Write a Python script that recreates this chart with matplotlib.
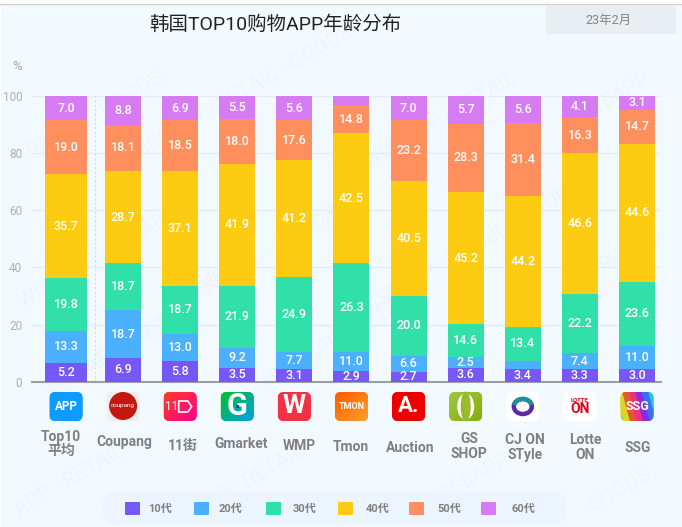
import numpy as np
import matplotlib
matplotlib.use("Agg")
import matplotlib.pyplot as plt
from matplotlib.patches import FancyBboxPatch, Rectangle, Circle, Polygon, Ellipse, Arc

plt.rcParams["font.family"] = ["Roboto", "Noto Sans CJK SC", "DejaVu Sans"]

# Data: segment heights, printed labels kept separately
apps = ["Top10\n平均", "Coupang", "11街", "Gmarket", "WMP", "Tmon", "Auction",
        "GS\nSHOP", "CJ ON\nSTyle", "Lotte\nON", "SSG"]
ages = ["10代", "20代", "30代", "40代", "50代", "60代"]
age10 = [6.5, 8.3, 7.1, 4.9, 4.4, 3.7, 3.5, 4.9, 4.4, 4.4, 4.3]
age20 = [11.4, 16.7, 9.6, 6.8, 6.1, 6.8, 5.6, 3.7, 2.7, 5.5, 8.2]
age30 = [18.4, 16.5, 16.8, 21.9, 26.3, 31.0, 20.9, 11.5, 12.2, 20.9, 22.5]
age40 = [36.3, 32.2, 40.2, 42.7, 40.8, 45.5, 40.2, 46.3, 45.7, 49.1, 48.2]
age50 = [18.9, 16.3, 17.8, 15.8, 13.9, 9.7, 21.3, 23.9, 25.4, 12.7, 12.0]
age60 = [8.5, 10.0, 8.5, 7.9, 8.5, 3.3, 8.5, 9.7, 9.6, 7.4, 4.8]
label10 = ["5.2", "6.9", "5.8", "3.5", "3.1", "2.9", "2.7", "3.6", "3.4", "3.3", "3.0"]
label20 = ["13.3", "18.7", "13.0", "9.2", "7.7", "11.0", "6.6", "2.5", "", "7.4", "11.0"]
label30 = ["19.8", "18.7", "18.7", "21.9", "24.9", "26.3", "20.0", "14.6", "13.4", "22.2", "23.6"]
label40 = ["35.7", "28.7", "37.1", "41.9", "41.2", "42.5", "40.5", "45.2", "44.2", "46.6", "44.6"]
label50 = ["19.0", "18.1", "18.5", "18.0", "17.6", "14.8", "23.2", "28.3", "31.4", "16.3", "14.7"]
label60 = ["7.0", "8.8", "6.9", "5.5", "5.6", "", "7.0", "5.7", "5.6", "4.1", "3.1"]

colors = ["#7558f5", "#4bb0fd", "#30e0a8", "#fdcb12", "#ff8f5c", "#d77bf2"]
W, H = 682, 527
BG = "#f3faff"

fig = plt.figure(figsize=(W / 100, H / 100), dpi=100, facecolor="white")

# background layer in pixel coordinates
bg = fig.add_axes([0, 0, 1, 1], zorder=0)
bg.axis("off")


def gradient(x, y, w, h, c1, c2, r=6):
    # rounded icon with a diagonal gradient
    patch = FancyBboxPatch((x + r, y + r), w - 2 * r, h - 2 * r,
                           boxstyle="round,pad=%d,rounding_size=%d" % (r, r),
                           fc=c1, ec="none", zorder=3)
    bg.add_patch(patch)
    t = np.linspace(0, 1, 40)
    g = (t[None, :] + t[:, None]) / 2
    rgb1 = np.array(matplotlib.colors.to_rgb(c1))
    rgb2 = np.array(matplotlib.colors.to_rgb(c2))
    im = rgb1[None, None, :] * (1 - g[..., None]) + rgb2[None, None, :] * g[..., None]
    img = bg.imshow(im, extent=(x, x + w, y + h, y), aspect="auto", zorder=3.1)
    img.set_clip_path(patch)


bg.add_patch(Rectangle((1, 4), 681, 523, fc=BG, ec="none", zorder=0))
bg.plot([0, 682], [3.5, 3.5], color="#cfd2d4", lw=1, zorder=1)

# faint watermark
marks = [(95, 115, "RETAIL · GOODS"), (240, 95, "WISEAPP · RETAIL · GOODS"),
         (440, 120, "WISEAPP · RETAIL"), (610, 100, "WISEAPP"),
         (95, 260, "WISEAPP · RETAIL"), (270, 250, "RETAIL · GOODS"),
         (470, 250, "WISEAPP · RETAIL · GOODS"), (630, 250, "RETAIL"),
         (120, 350, "WISEAPP · RETAIL"), (340, 340, "WISEAPP · RETAIL"),
         (70, 480, "APP · RETAIL"), (250, 480, "APP · RETAIL"),
         (470, 480, "WISEAPP"), (620, 490, "GOODS")]
for mx, my, mt in marks:
    bg.text(mx, my, mt, color="#ebf5fe", fontsize=15, rotation=30,
            ha="center", va="center", zorder=1)

bg.text(275.5, 25, "韩国TOP10购物APP年龄分布", fontsize=14, color="#222222",
        ha="center", va="center", zorder=2)
bg.add_patch(Rectangle((546, 5), 130, 29, fc="#e9eef2", ec="none", zorder=2))
bg.text(609, 20.5, "23年2月", fontsize=9, color="#858585", ha="center", va="center", zorder=3)
bg.text(17.5, 66, "%", fontsize=9.5, color="#9ea3a6", ha="center", va="center", zorder=2)

# chart
px_left, px_right, px_top, px_bottom = 32, 661, 96, 381.7
ax = fig.add_axes([px_left / W, 1 - px_bottom / H, (px_right - px_left) / W,
                   (px_bottom - px_top) / H], zorder=1)
ax.patch.set_alpha(0)
step = 57.1
ax.set_xlim((px_left - 66) / step, (px_right - 66) / step)
ax.set_ylim(0, 100)
x = np.arange(len(apps))
widths = [42 / step] + [36 / step] * (len(apps) - 1)

bottom = np.zeros(len(apps))
series = [age10, age20, age30, age40, age50, age60]
texts = [label10, label20, label30, label40, label50, label60]
for vals, labs, col in zip(series, texts, colors):
    ax.bar(x, vals, bottom=bottom, width=widths, color=col, zorder=3)
    for xi, b, v, s in zip(x, bottom, vals, labs):
        ax.text(xi, b + v / 2, s, color="white", fontsize=9, fontweight="medium",
                ha="center", va="center", zorder=4)
    bottom = bottom + np.array(vals)

ax.set_yticks([0, 20, 40, 60, 80, 100])
ax.set_xticks([])
ax.tick_params(axis="y", length=0, labelsize=8.5, labelcolor="#aab0b3", pad=7)
ax.grid(axis="y", color="#e6edf2", lw=1, zorder=0)
ax.set_axisbelow(True)
for side in ["top", "right", "left"]:
    ax.spines[side].set_visible(False)
ax.spines["bottom"].set_color("#9a9fa3")
ax.spines["bottom"].set_linewidth(1.5)
ax.axvline(0.5, color="#d5dade", lw=0.8, ls=(0, (2, 2)), zorder=1)

# app icons
iy, isz = 392, 29
icon_x = [66 + step * i - 16.5 for i in range(len(apps))]
gradient(icon_x[0], iy, 33, isz, "#0e9bff", "#0e9bff")
bg.text(icon_x[0] + 16.5, iy + 14, "APP", color="white", fontsize=8.5, fontweight="bold",
        ha="center", va="center", zorder=4)

gradient(icon_x[1], iy, 33, isz, "#f0efef", "#efeded")
bg.add_patch(Circle((icon_x[1] + 16.5, iy + 14), 14, fc="#c4170f", ec="none", zorder=4))
bg.text(icon_x[1] + 16.5, iy + 14, "coupang", color="white", fontsize=4.5, ha="center",
        va="center", zorder=5)

gradient(icon_x[2], iy, 33, isz, "#ff3b22", "#ff0090")
bg.text(icon_x[2] + 8, iy + 14.5, "11", color="white", fontsize=8.5, ha="center", va="center", zorder=4)
bg.add_patch(Polygon([(icon_x[2] + 15, iy + 9), (icon_x[2] + 24, iy + 9), (icon_x[2] + 28, iy + 14.5),
                      (icon_x[2] + 24, iy + 20), (icon_x[2] + 15, iy + 20)],
                     fc="none", ec="white", lw=1.2, zorder=4))

gradient(icon_x[3], iy, 33, isz, "#00c02a", "#009fe8")
bg.text(icon_x[3] + 16.5, iy + 14, "G", color="white", fontsize=22, fontweight="bold",
        ha="center", va="center", zorder=4)
bg.add_patch(Circle((icon_x[3] + 17, iy + 14.5), 1.5, fc="#1030c0", ec="none", zorder=5))

gradient(icon_x[4], iy, 33, isz, "#f2334a", "#ef3044")
bg.text(icon_x[4] + 16.5, iy + 14, "W", color="white", fontsize=19, fontweight="bold",
        ha="center", va="center", zorder=4)

gradient(icon_x[5], iy, 33, isz, "#ff5a00", "#ffa02a")
bg.text(icon_x[5] + 16.5, iy + 14.5, "TMON", color="white", fontsize=6.5, fontweight="bold",
        ha="center", va="center", zorder=4)

gradient(icon_x[6], iy, 33, isz, "#ee0000", "#ee0000")
bg.text(icon_x[6] + 16.5, iy + 14, "A.", color="white", fontsize=16, fontweight="bold",
        ha="center", va="center", zorder=4)

gradient(icon_x[7], iy, 33, isz, "#a3c544", "#84ae0c")
bg.add_patch(Ellipse((icon_x[7] + 16.5, iy + 14.5), 17, 26, fc="white", ec="none", zorder=4))
bg.add_patch(Ellipse((icon_x[7] + 16.5, iy + 14.5), 10, 30, fc="#97bb2a", ec="none", zorder=4.1))

gradient(icon_x[8], iy, 33, isz, "#ffffff", "#ffffff")
bg.add_patch(Ellipse((icon_x[8] + 16.5, iy + 14.5), 18, 15, fc="none", ec="#5a2aa8", lw=3.2, zorder=4))
bg.add_patch(Arc((icon_x[8] + 16.5, iy + 14.5), 18, 15, theta1=190, theta2=350,
                 ec="#1f8f9a", lw=3.2, zorder=4.1))

gradient(icon_x[9], iy, 33, isz, "#ffffff", "#ffffff")
bg.text(icon_x[9] + 16.5, iy + 8, "LOTTE", color="#e60012", fontsize=4.2, fontweight="bold",
        ha="center", va="center", zorder=4)
bg.text(icon_x[9] + 16.5, iy + 17, "ON", color="#e60012", fontsize=10, fontweight="bold",
        ha="center", va="center", zorder=4)

gradient(icon_x[10], iy, 33, isz, "#e6d020", "#20c8f0")
base = FancyBboxPatch((icon_x[10] + 6, iy + 6), 21, 17, boxstyle="round,pad=6,rounding_size=6",
                      fc="none", ec="none", zorder=3)
bg.add_patch(base)
stripe_cols = ["#d8d820", "#e05a30", "#f0307a", "#8a2be2", "#3a6ff0", "#20c8f0"]
for k, sc in enumerate(stripe_cols):
    xs = icon_x[10] + k * 6.5 - 4
    st = bg.fill([xs, xs + 6.5, xs + 14, xs + 7.5], [iy, iy, iy + isz, iy + isz],
                 color=sc, zorder=3.5)[0]
    st.set_clip_path(base)
bg.text(icon_x[10] + 16.5, iy + 14, "SSG", color="white", fontsize=9, fontweight="bold",
        ha="center", va="center", zorder=4)

# app names
name_pos = [(61, 444), (124.7, 442), (183, 446), (240.7, 444), (299, 446), (351, 447),
            (409.7, 448), (469, 446.5), (525, 447.5), (585, 447.5), (638, 448)]
for name, (nx, ny) in zip(apps, name_pos):
    bg.text(nx, ny, name, color="#7f7f7f", fontsize=10, fontweight="bold", ha="center",
            va="center", linespacing=1.05, zorder=2)

# legend
bg.add_patch(FancyBboxPatch((102, 491), 465, 34, boxstyle="round,pad=0,rounding_size=17",
                            fc="#ecf5fd", ec="none", mutation_aspect=1, zorder=1.5))
swatch_x = [125, 194, 266, 338, 409, 481]
text_x = [148, 219, 293, 366, 437, 511]
for sx, tx, col, age in zip(swatch_x, text_x, colors, ages):
    bg.add_patch(FancyBboxPatch((sx + 1, 502 + 1), 13, 11, boxstyle="round,pad=1,rounding_size=1",
                                fc=col, ec="none", zorder=2))
    bg.text(tx, 509, age, color="#7f7f7f", fontsize=8, fontweight="bold", ha="left",
            va="center", zorder=2)

bg.set_xlim(0, W)
bg.set_ylim(H, 0)

fig.savefig("out.png", dpi=100)
